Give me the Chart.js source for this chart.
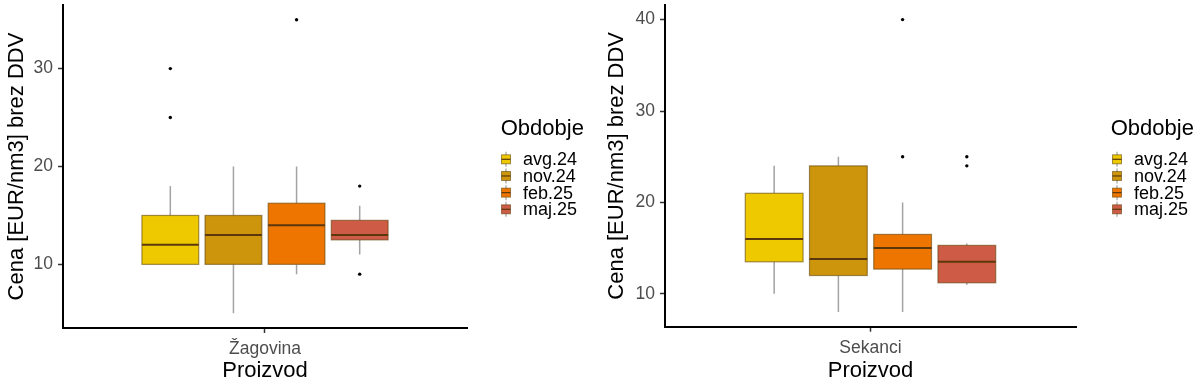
<!DOCTYPE html>
<html><head><meta charset="utf-8">
<script src="https://cdn.jsdelivr.net/npm/chart.js@4/dist/chart.umd.min.js"></script>
<style>
html,body{margin:0;padding:0;background:#fff;}
#wrap{position:relative;width:1200px;height:384px;background:#fff;}
.panel{position:absolute;top:0;width:600px;height:384px;}
</style></head><body>
<div id="wrap">
<div class="panel" style="left:0"><canvas id="c1" width="600" height="384"></canvas></div>
<div class="panel" style="left:600px"><canvas id="c2" width="600" height="384"></canvas></div>
</div>
<script>
const periods = ['avg.24','nov.24','feb.25','maj.25'];
const periodColors = ['#EEC900','#CD950C','#EE7600','#CD5B45'];
const products = ['Žagovina','Sekanci'];
const yTitle = 'Cena [EUR/nm3] brez DDV';
const xTitle = 'Proizvod';
const legendTitle = 'Obdobje';

// Žagovina
const zagMin = [10, 5, 9, 11];
const zagQ1  = [10, 10, 10, 12.5];
const zagMed = [12, 13, 14, 13];
const zagQ3  = [15, 15, 16.25, 14.5];
const zagMax = [18, 20, 20, 16];
const zagOut = [[25, 30], [], [35], [9, 18]];
const zagTicks = [10, 20, 30];

// Sekanci
const sekMin = [10, 8, 8, 11];
const sekQ1  = [13.5, 12, 12.7, 11.2];
const sekMed = [16, 13.8, 15, 13.5];
const sekQ3  = [21, 24, 16.5, 15.3];
const sekMax = [24, 25, 20, 15.5];
const sekOut = [[], [], [25, 40], [24, 25]];
const sekTicks = [10, 20, 30, 40];

const dodge = [-0.28125, -0.09375, 0.09375, 0.28125];
const boxW = 0.16875;
const FONT = '"Liberation Sans", Arial, sans-serif';

function makeChart(id, name, st, ticks, geom) {
  const allVals = [].concat(st.min, st.max, ...st.out);
  const lo = Math.min(...allVals), hi = Math.max(...allVals);
  const pad = (hi - lo) * 0.05;

  const plugin = {
    id: 'boxes_' + id,
    beforeDatasetsDraw(chart) {
      const xs = chart.scales.x, ys = chart.scales.y, ctx = chart.ctx;
      ctx.save();
      for (let i = 0; i < periods.length; i++) {
        const cx = xs.getPixelForValue(1 + dodge[i]);
        const hw = (xs.getPixelForValue(1 + dodge[i] + boxW / 2) - cx);
        const yMin = ys.getPixelForValue(st.min[i]);
        const yQ1 = ys.getPixelForValue(st.q1[i]);
        const yMed = ys.getPixelForValue(st.med[i]);
        const yQ3 = ys.getPixelForValue(st.q3[i]);
        const yMax = ys.getPixelForValue(st.max[i]);
        ctx.strokeStyle = '#a3a3a3'; ctx.lineWidth = 1.5;
        ctx.beginPath();
        ctx.moveTo(cx, yQ3); ctx.lineTo(cx, yMax);
        ctx.moveTo(cx, yQ1); ctx.lineTo(cx, yMin);
        ctx.stroke();
        ctx.fillStyle = periodColors[i];
        ctx.fillRect(cx - hw, yQ3, 2 * hw, yQ1 - yQ3);
        ctx.strokeStyle = 'rgba(90,60,0,0.55)'; ctx.lineWidth = 1.2;
        ctx.strokeRect(cx - hw, yQ3, 2 * hw, yQ1 - yQ3);
        ctx.strokeStyle = '#5a380c'; ctx.lineWidth = 2;
        ctx.beginPath(); ctx.moveTo(cx - hw, yMed); ctx.lineTo(cx + hw, yMed); ctx.stroke();
      }
      ctx.restore();
    },
    afterDraw(chart) {
      const ctx = chart.ctx;
      ctx.save();
      ctx.fillStyle = '#000';
      ctx.textBaseline = 'middle';
      ctx.textAlign = 'left';
      ctx.font = '22px ' + FONT;
      ctx.fillText(legendTitle, geom.legX, 129);
      ctx.font = '18px ' + FONT;
      for (let i = 0; i < periods.length; i++) {
        const y = 159.3 + i * 16.67;
        const gx = geom.glyphX;
        ctx.strokeStyle = '#a3a3a3'; ctx.lineWidth = 1.2;
        ctx.beginPath(); ctx.moveTo(gx, y - 7.5); ctx.lineTo(gx, y + 7.5); ctx.stroke();
        ctx.fillStyle = periodColors[i];
        ctx.fillRect(gx - 4.5, y - 4.5, 9, 9);
        ctx.strokeStyle = 'rgba(90,60,0,0.55)'; ctx.lineWidth = 1;
        ctx.strokeRect(gx - 4.5, y - 4.5, 9, 9);
        ctx.strokeStyle = '#5a380c'; ctx.lineWidth = 1.2;
        ctx.beginPath(); ctx.moveTo(gx - 4.5, y); ctx.lineTo(gx + 4.5, y); ctx.stroke();
        ctx.fillStyle = '#000';
        ctx.fillText(periods[i], geom.textX, y + 1);
      }
      ctx.restore();
    }
  };

  const datasets = periods.map((p, i) => ({
    label: p,
    data: st.out[i].map(v => ({ x: 1 + dodge[i], y: v })),
    pointRadius: 1.7,
    pointBackgroundColor: '#000',
    pointBorderWidth: 0,
    showLine: false
  }));

  return new Chart(document.getElementById(id), {
    type: 'scatter',
    data: { datasets },
    plugins: [plugin],
    options: {
      responsive: false,
      animation: false,
      layout: { padding: { top: 5, right: geom.padRight, bottom: 0, left: 0 } },
      plugins: { legend: { display: false }, tooltip: { enabled: false } },
      scales: {
        x: {
          type: 'linear', min: 0.4, max: 1.6,
          afterBuildTicks: s => { s.ticks = [{ value: 1 }]; },
          afterFit: s => { s.height = geom.xH; s.paddingLeft = 0; s.paddingRight = 0; },
          ticks: { callback: () => name, color: '#4d4d4d', font: { family: FONT, size: 17.5 }, padding: 6, maxRotation: 0 },
          grid: { display: true, drawOnChartArea: false, drawTicks: true, tickLength: 5, tickColor: '#333', tickWidth: 1.5 },
          border: { display: true, color: '#000', width: 2 },
          title: { display: true, text: xTitle, color: '#000', font: { family: FONT, size: 22 }, padding: { top: 0, bottom: 0 } }
        },
        y: {
          type: 'linear', min: lo - pad, max: hi + pad,
          afterBuildTicks: s => { s.ticks = ticks.map(v => ({ value: v })); },
          afterFit: s => { s.width = geom.yW; s.paddingTop = 0; s.paddingBottom = 0; },
          ticks: { color: '#4d4d4d', font: { family: FONT, size: 17.5 }, padding: 5 },
          grid: { display: true, drawOnChartArea: false, drawTicks: true, tickLength: 5, tickColor: '#333', tickWidth: 1.5 },
          border: { display: true, color: '#000', width: 2 },
          title: { display: true, text: yTitle, color: '#000', font: { family: FONT, size: 22 }, padding: { top: 4, bottom: 0 } }
        }
      }
    }
  });
}

makeChart('c1', products[0],
  { min: zagMin, q1: zagQ1, med: zagMed, q3: zagQ3, max: zagMax, out: zagOut }, zagTicks,
  { yW: 63, xH: 56, padRight: 133, legX: 500.7, glyphX: 506, textX: 523 });
makeChart('c2', products[1],
  { min: sekMin, q1: sekQ1, med: sekMed, q3: sekQ3, max: sekMax, out: sekOut }, sekTicks,
  { yW: 65, xH: 57.3, padRight: 124, legX: 510.7, glyphX: 517, textX: 534 });
</script>
</body></html>
